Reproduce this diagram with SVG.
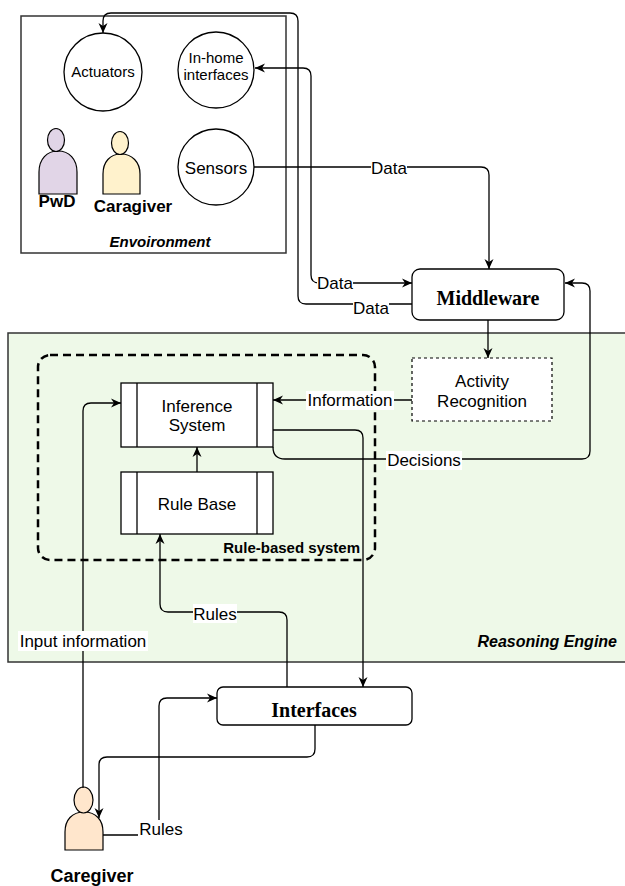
<svg xmlns="http://www.w3.org/2000/svg" width="625" height="886" viewBox="0 0 625 886">
<style>
.box{fill:#fff;stroke:#000;stroke-width:1.3}
.ln{fill:none;stroke:#000;stroke-width:1.3}
.t{font-family:"Liberation Sans",Arial,sans-serif;fill:#000;text-anchor:middle}
.lbl{font-family:"Liberation Sans",Arial,sans-serif;font-size:17px;fill:#000;text-anchor:middle}
.bg{fill:#fff}
.serif{font-family:"Liberation Serif","Times New Roman",serif;font-weight:bold;font-size:20px;text-anchor:middle;fill:#000}
.person{stroke:#000;stroke-width:1.2}
</style>
<defs>
<marker id="arr" viewBox="0 0 10 10" refX="10" refY="5" markerWidth="11" markerHeight="10" markerUnits="userSpaceOnUse" orient="auto-start-reverse">
<path d="M0,0.5 L10,5 L0,9.5 L3,5 Z" fill="#000"/>
</marker>
</defs>

<g id="reasoning-engine">
<rect x="8" y="333" width="630" height="329" fill="#EEF9E8" stroke="#333" stroke-width="1.5"/>
<text class="t" x="617" y="647" font-size="16" font-weight="bold" font-style="italic" style="text-anchor:end">Reasoning Engine</text>
</g>

<g id="environment">
<rect x="21" y="16" width="265" height="237" fill="#fff" stroke="#333" stroke-width="1.5"/>
<text class="t" x="160" y="247" font-size="15" font-weight="bold" font-style="italic">Envoironment</text>
</g>

<g id="rule-based-system">
<rect x="38" y="355" width="337" height="205" rx="12" fill="none" stroke="#000" stroke-width="2.5" stroke-dasharray="8 5"/>
<text class="t" x="360" y="553" font-size="15" font-weight="bold" style="text-anchor:end">Rule-based system</text>
</g>

<g id="actuators">
<circle class="box" cx="103" cy="72" r="39"/>
<text class="t" x="103" y="77" font-size="15">Actuators</text>
</g>
<g id="in-home-interfaces">
<circle class="box" cx="216" cy="70" r="38"/>
<text class="t" x="216" y="63" font-size="15">In-home</text>
<text class="t" x="216" y="80" font-size="15">interfaces</text>
</g>
<g id="sensors">
<circle class="box" cx="216" cy="167" r="38"/>
<text class="t" x="216" y="174" font-size="17">Sensors</text>
</g>
<g id="pwd">
<path class="person" fill="#e1d5e7" d="M39,194 V172 C39,159 47,151 58,151 C69,151 77,159 77,172 V194 Z"/>
<ellipse class="person" fill="#e1d5e7" cx="56" cy="140" rx="8.5" ry="11.5"/>
<text class="t" x="57" y="207" font-size="17" font-weight="bold">PwD</text>
</g>
<g id="caragiver-env">
<path class="person" fill="#fff2cc" d="M103,194 V174 C103,162 110,154 121,154 C132,154 140,162 140,174 V194 Z"/>
<ellipse class="person" fill="#fff2cc" cx="120" cy="143" rx="8.5" ry="11.5"/>
<text class="t" x="133" y="212" font-size="17" font-weight="bold">Caragiver</text>
</g>

<g id="middleware">
<rect class="box" x="412" y="269" width="152" height="51" rx="8"/>
<text class="serif" x="488" y="305">Middleware</text>
</g>
<g id="activity-recognition">
<rect x="412" y="358" width="140" height="63" fill="#fff" stroke="#000" stroke-width="1.2" stroke-dasharray="3 3"/>
<text class="t" x="482" y="387" font-size="17">Activity</text>
<text class="t" x="482" y="407" font-size="17">Recognition</text>
</g>
<g id="inference-system">
<rect class="box" x="121" y="383" width="152" height="64"/>
<line class="ln" x1="137" y1="383" x2="137" y2="447"/>
<line class="ln" x1="257" y1="383" x2="257" y2="447"/>
<text class="t" x="197" y="412" font-size="17">Inference</text>
<text class="t" x="197" y="431" font-size="17">System</text>
</g>
<g id="rule-base">
<rect class="box" x="121" y="472" width="152" height="62"/>
<line class="ln" x1="137" y1="472" x2="137" y2="534"/>
<line class="ln" x1="257" y1="472" x2="257" y2="534"/>
<text class="t" x="197" y="510" font-size="17">Rule Base</text>
</g>
<g id="interfaces">
<rect class="box" x="217" y="687" width="195" height="38" rx="6"/>
<text class="serif" x="314" y="717">Interfaces</text>
</g>
<g id="caregiver">
<path class="person" fill="#ffe6cc" d="M65,850 V832 C65,820 72,812 84,812 C96,812 103,820 103,832 V850 Z"/>
<ellipse class="person" fill="#ffe6cc" cx="83.5" cy="800" rx="9.5" ry="13"/>
<text class="t" x="92" y="882" font-size="18" font-weight="bold">Caregiver</text>
</g>

<g id="connectors">
<path class="ln" d="M412,304 H306 Q298,304 298,296 V21 Q298,13 290,13 H111 Q103,13 103,21 V33" marker-end="url(#arr)"/>
<path class="ln" d="M255,68 H303 Q311,68 311,76 V275 Q311,283 319,283 H412" marker-start="url(#arr)" marker-end="url(#arr)"/>
<path class="ln" d="M254,167 H481 Q489,167 489,175 V269" marker-end="url(#arr)"/>
<path class="ln" d="M273,447 Q273,459 285,459 H582 Q590,459 590,451 V291 Q590,283 582,283 H565" marker-end="url(#arr)"/>
<path class="ln" d="M488,320 V358" marker-end="url(#arr)"/>
<path class="ln" d="M412,400 H273" marker-end="url(#arr)"/>
<path class="ln" d="M273,430 H355 Q363,430 363,438 V687" marker-end="url(#arr)"/>
<path class="ln" d="M287,687 V620 Q287,612 279,612 H168 Q160,612 160,604 V534" marker-end="url(#arr)"/>
<path class="ln" d="M83,788 V411 Q83,403 91,403 H121" marker-end="url(#arr)"/>
<path class="ln" d="M315,725 V749 Q315,757 307,757 H107 Q99,757 99,765 V818" marker-end="url(#arr)"/>
<path class="ln" d="M103,835 H151 Q159,835 159,827 V706 Q159,698 167,698 H217" marker-end="url(#arr)"/>
<path class="ln" d="M197,472 V447" marker-end="url(#arr)"/>
<rect class="bg" x="353" y="297" width="36" height="19"/>
<text class="lbl" x="371" y="314">Data</text>
<rect class="bg" x="317" y="274" width="36" height="19"/>
<text class="lbl" x="335" y="289">Data</text>
<rect class="bg" x="371" y="158" width="36" height="19"/>
<text class="lbl" x="389" y="174">Data</text>
<rect class="bg" x="386" y="451" width="76" height="19"/>
<text class="lbl" x="424" y="466">Decisions</text>
<rect class="bg" x="306" y="391" width="88" height="19"/>
<text class="lbl" x="350" y="406">Information</text>
<rect class="bg" x="193" y="604" width="44" height="19"/>
<text class="lbl" x="215" y="620">Rules</text>
<rect class="bg" x="18" y="631" width="130" height="20"/>
<text class="lbl" x="83" y="647">Input information</text>
<rect class="bg" x="138" y="820" width="45" height="19"/>
<text class="lbl" x="161" y="835">Rules</text>
</g>
</svg>
